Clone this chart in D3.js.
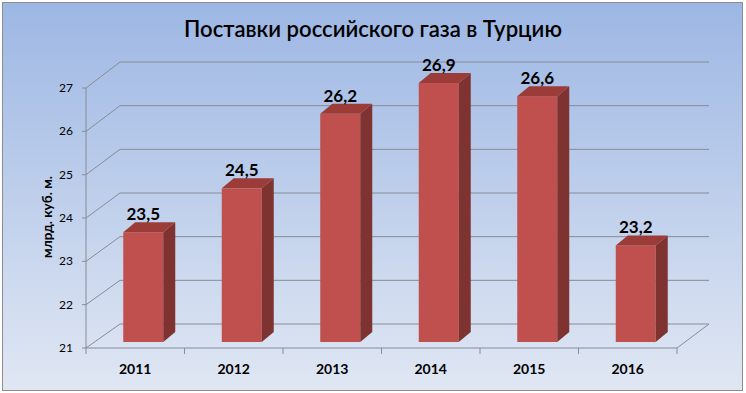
<!DOCTYPE html>
<html>
<head>
	<meta charset="utf-8">
	<script src="https://cdnjs.cloudflare.com/ajax/libs/d3/7.8.5/d3.min.js"></script>
	<style>
		body { margin: 0; background: #fff; }
		text { font-family: Lato, "Open Sans", sans-serif; fill: #000; }
	</style>
</head>
<body>
	<script>
		// Поставки российского газа в Турцию, млрд. куб. м.
		var years = ['2011', '2012', '2013', '2014', '2015', '2016'];
		var values = [23.5, 24.5, 26.2, 26.9, 26.6, 23.2];
		var valueLabels = ['23,5', '24,5', '26,2', '26,9', '26,6', '23,2'];
		var yTicks = [21, 22, 23, 24, 25, 26, 27];

		var width = 746, height = 393;
		var depthX = 34, depthY = -24;   // wall depth
		var barDX = 12, barDY = -10;     // bar depth
		var barShift = 8;                // bar front plane offset from the front axis

		var svg = d3.select('body').append('svg')
			.attr('width', width)
			.attr('height', height);

		var grad = svg.append('defs').append('linearGradient')
			.attr('id', 'bg')
			.attr('x1', 0).attr('y1', 0).attr('x2', 0).attr('y2', 1);
		grad.append('stop').attr('offset', '0%').attr('stop-color', '#9db7e4');
		grad.append('stop').attr('offset', '100%').attr('stop-color', '#e0e7f3');

		svg.append('rect')
			.attr('x', 2.5).attr('y', 2.5)
			.attr('width', 740).attr('height', 388)
			.attr('fill', 'url(#bg)')
			.attr('stroke', '#8d8d8d')
			.attr('stroke-width', 1);

		var x = d3.scaleBand().domain(years).range([86, 677]);
		var yFront = d3.scaleLinear().domain([21, 27]).range([348, 88]);
		var yBack = d3.scaleLinear().domain([21, 27]).range([324, 62]);
		var yBar = d3.scaleLinear().domain([21, 27]).range([342, 78.6]);

		var grid = svg.append('g')
			.attr('stroke', '#878c95')
			.attr('stroke-width', 1)
			.attr('fill', 'none');

		yTicks.forEach(function (t) {
			grid.append('path')
				.attr('d', 'M86,' + yFront(t) + 'L' + (86 + depthX) + ',' + yBack(t) + 'H709');
		});

		// floor
		grid.append('path')
			.attr('d', 'M86,' + yFront(21) + 'H677L709,' + yBack(21));

		// y axis and ticks
		grid.append('path').attr('d', 'M86,' + yFront(27) + 'V' + yFront(21));
		yTicks.forEach(function (t) {
			grid.append('path').attr('d', 'M82,' + yFront(t) + 'H86');
		});

		// category ticks
		var bounds = years.map(function (d) { return x(d); }).concat([677]);
		bounds.forEach(function (b) {
			grid.append('path').attr('d', 'M' + b + ',' + yFront(21) + 'V' + (yFront(21) + 6));
		});

		svg.append('g').selectAll('text')
			.data(yTicks)
			.enter().append('text')
			.attr('x', 73)
			.attr('y', function (d) { return yFront(d) + 4; })
			.attr('text-anchor', 'end')
			.attr('font-size', 12)
			.text(function (d) { return d; });

		svg.append('g').selectAll('text')
			.data(years)
			.enter().append('text')
			.attr('x', function (d) { return x(d) + x.bandwidth() / 2; })
			.attr('y', 374)
			.attr('text-anchor', 'middle')
			.attr('font-size', 14)
			.attr('font-weight', 'bold')
			.text(function (d) { return d; });

		svg.append('text')
			.attr('transform', 'translate(52,217) rotate(-90)')
			.attr('text-anchor', 'middle')
			.attr('font-size', 13.5)
			.attr('font-weight', 'bold')
			.text('млрд. куб. м.');

		// bars
		var barW = 40;
		var bars = svg.append('g').selectAll('g')
			.data(values)
			.enter().append('g');

		function left(d, i) { return x(years[i]) + x.bandwidth() / 2 - barW / 2 + barShift; }

		bars.append('rect')
			.attr('x', left)
			.attr('y', function (d) { return yBar(d); })
			.attr('width', barW)
			.attr('height', function (d) { return yBar(21) - yBar(d); })
			.attr('fill', '#c0504d');

		bars.append('path')
			.attr('fill', '#7f3330')
			.attr('d', function (d, i) {
				var xr = left(d, i) + barW, yt = yBar(d), yb = yBar(21);
				return 'M' + xr + ',' + yt + 'V' + yb + 'l' + barDX + ',' + barDY +
					'V' + (yt + barDY) + 'Z';
			});

		bars.append('path')
			.attr('fill', '#9b3c39')
			.attr('d', function (d, i) {
				var xl = left(d, i), yt = yBar(d);
				return 'M' + xl + ',' + yt + 'h' + barW + 'l' + barDX + ',' + barDY +
					'h' + (-barW) + 'Z';
			});

		bars.append('text')
			.attr('x', function (d, i) { return left(d, i) + barW / 2; })
			.attr('y', function (d) { return yBar(d) - 12; })
			.attr('text-anchor', 'middle')
			.attr('font-size', 17)
			.attr('font-weight', 'bold')
			.text(function (d, i) { return valueLabels[i]; });

		var title = svg.append('text')
			.attr('x', 373)
			.attr('y', 37)
			.attr('text-anchor', 'middle')
			.attr('font-size', 20)
			.attr('font-weight', 600)
			.text('Поставки российского газа в Турцию');
		var tw = title.node().getComputedTextLength();
		title.attr('font-size', 20 * 378 / tw);
	</script>
</body>
</html>
